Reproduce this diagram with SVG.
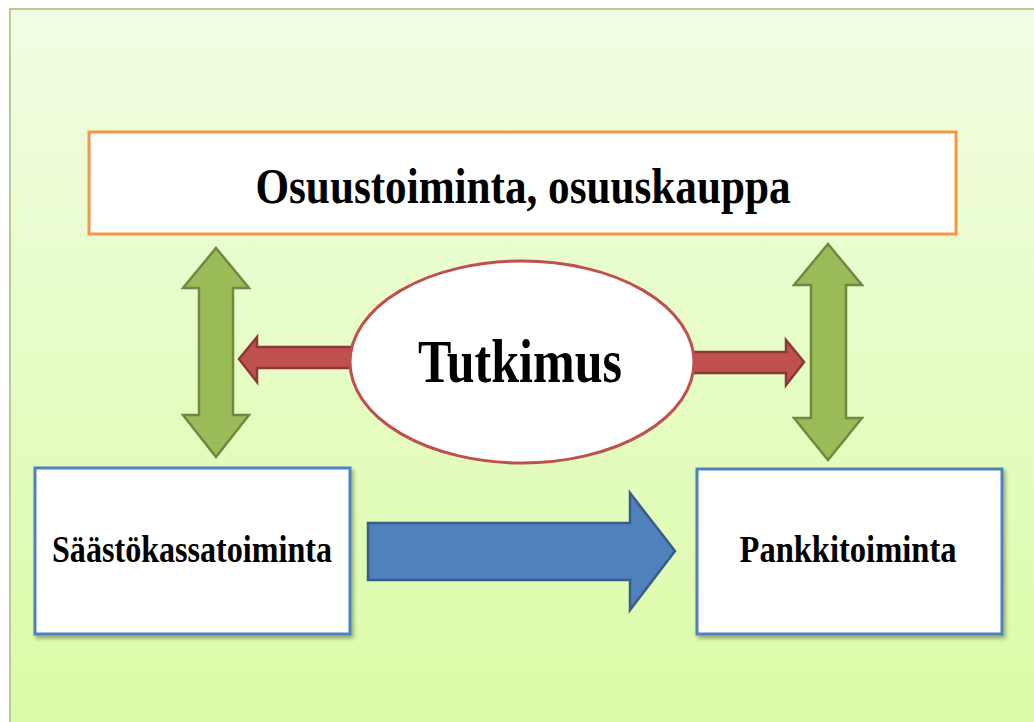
<svg xmlns="http://www.w3.org/2000/svg" width="1034" height="722" viewBox="0 0 1034 722">
<defs>
<linearGradient id="bg" x1="0" y1="0" x2="0" y2="1">
<stop offset="0" stop-color="#f1fde3"/>
<stop offset="1" stop-color="#dbfca6"/>
</linearGradient>
<filter id="sh" x="-5%" y="-5%" width="115%" height="120%">
<feGaussianBlur in="SourceAlpha" stdDeviation="2"/>
<feOffset dx="2" dy="3"/>
<feComponentTransfer><feFuncA type="linear" slope="0.35"/></feComponentTransfer>
<feMerge><feMergeNode/><feMergeNode in="SourceGraphic"/></feMerge>
</filter>
</defs>
<style>
.t{font-family:"Liberation Serif","Times New Roman",serif;font-weight:bold;fill:#000;text-anchor:middle}
.green{fill:#9bbb59;stroke:#71893f;stroke-width:2.5;stroke-linejoin:miter}
.red{fill:#c0504d;stroke:#8c3836;stroke-width:2.5}
.blue{fill:#4f81bd;stroke:#385d8a;stroke-width:2.5}
.bbox{fill:#ffffff;stroke:#4f81bd;stroke-width:3}
</style>
<rect x="0" y="0" width="1034" height="722" fill="#ffffff"/>
<rect x="10" y="9" width="1030" height="720" fill="url(#bg)" stroke="#b5cd8e" stroke-width="2"/>

<g id="connectors">
<polygon class="green" points="216,248 249,288 233,288 233,415 249,415 216,457 183,415 199,415 199,288 183,288"/>
<polygon class="green" points="828,244 862,285 846,285 846,418 862,418 828,460 794,418 811,418 811,285 794,285"/>
<polygon class="red" points="239,359 257,337 257,347 352,347 352,368 257,368 257,382"/>
<polygon class="red" points="804,362 786,340 786,352 690,352 690,373 786,373 786,385"/>
<polygon class="blue" points="675,551 630,493 630,523 368,523 368,580 630,580 630,610"/>
</g>

<g id="node-top">
<rect x="89" y="132" width="867" height="102" fill="#ffffff" stroke="#f79646" stroke-width="3"/>
<text class="t" x="523" y="203" font-size="51" textLength="535" lengthAdjust="spacingAndGlyphs">Osuustoiminta, osuuskauppa</text>
</g>

<g id="node-tutkimus">
<ellipse cx="522" cy="362" rx="172" ry="101" fill="#ffffff" stroke="#c0504d" stroke-width="3"/>
<text class="t" x="520" y="382" font-size="61" textLength="204" lengthAdjust="spacingAndGlyphs">Tutkimus</text>
</g>

<g id="node-saasto">
<rect class="bbox" x="35" y="468" width="315" height="166" filter="url(#sh)"/>
<text class="t" x="192" y="562" font-size="37" textLength="280" lengthAdjust="spacingAndGlyphs">Säästökassatoiminta</text>
</g>

<g id="node-pankki">
<rect class="bbox" x="697" y="469" width="305" height="165" filter="url(#sh)"/>
<text class="t" x="848" y="562" font-size="37" textLength="217" lengthAdjust="spacingAndGlyphs">Pankkitoiminta</text>
</g>
</svg>
